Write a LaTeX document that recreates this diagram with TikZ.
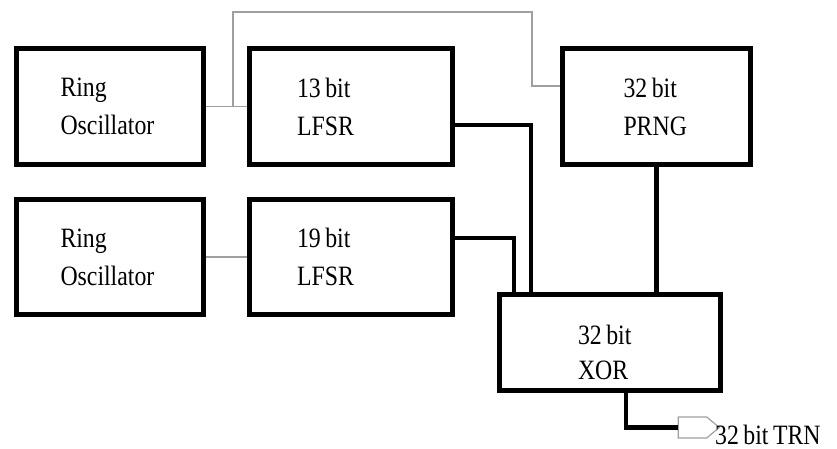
\documentclass[tikz,border=0pt]{standalone}
\usepackage{fontspec}
\setmainfont{Liberation Serif}[FakeStretch=0.85,WordSpace=0.75]
\usepackage{tikz}
\usetikzlibrary{calc,positioning,shapes.symbols}

\begin{document}
\begin{tikzpicture}[x=1pt,y=-1pt,line join=miter,
  blk/.style={draw,line width=5pt,inner sep=0pt,align=flush left,font=\fontsize{28}{38}\selectfont},
  thinwire/.style={draw=gray!75,line width=1.4pt},
  bus/.style={draw,line width=4.5pt}]
\useasboundingbox (0,0) rectangle (837,449);
% oscillators
\node[blk,minimum width=187,minimum height=116,text width=99pt] (roA) at (110,106.5) {Ring\\Oscillator};
\node[blk,minimum width=187,minimum height=115,text width=99pt] (roB) at (110,257) {Ring\\Oscillator};
% shift registers
\node[blk,minimum width=203,minimum height=116,text width=108pt] (lfsrA) at (351,106.5) {13 bit\\LFSR};
\node[blk,minimum width=203,minimum height=115,text width=108pt] (lfsrB) at (351,257) {19 bit\\LFSR};
\node[blk,minimum width=188,minimum height=116,text width=66pt] (prng) at (656.5,106.5) {32 bit\\PRNG};
% combiner
\node[blk,minimum width=221,minimum height=96,
  label={[name=xorTxt,align=flush left,text width=64pt,yshift=-10pt,font=\fontsize{28}{35}\selectfont]center:32 bit\\XOR}] (xor) at (610,342.5) {};
% output plug
\node[draw=gray!75,line width=1.2pt,shape=signal,signal to=east,signal pointer angle=80,
  minimum width=41,minimum height=21,inner sep=0pt] (plug) at (692.5,427.5) {};
\node[anchor=base west,inner sep=0pt,font=\fontsize{28}{30}\selectfont] (trn) at (715,444) {32 bit TRN};
% clock wires
\coordinate (tap) at (233,106.5);
\coordinate (bend) at (532,12);
\coordinate (prngIn) at ([yshift=20.5pt]prng.west);
\draw[thinwire] (roA) -- (lfsrA);
\draw[thinwire] (tap) |- (bend) |- (prngIn);
\draw[thinwire] (roB) -- (lfsrB);
% data buses
\draw[bus] ([yshift=-18.5pt]lfsrA.east) -| ([xshift=-79pt]xor.north);
\draw[bus] ([yshift=19pt]lfsrB.east) -| ([xshift=-96pt]xor.north);
\draw[bus] (prng.south) -- (prng.south |- xor.north);
\draw[bus] ([xshift=16pt]xor.south) |- (plug.west);
\end{tikzpicture}
\end{document}
